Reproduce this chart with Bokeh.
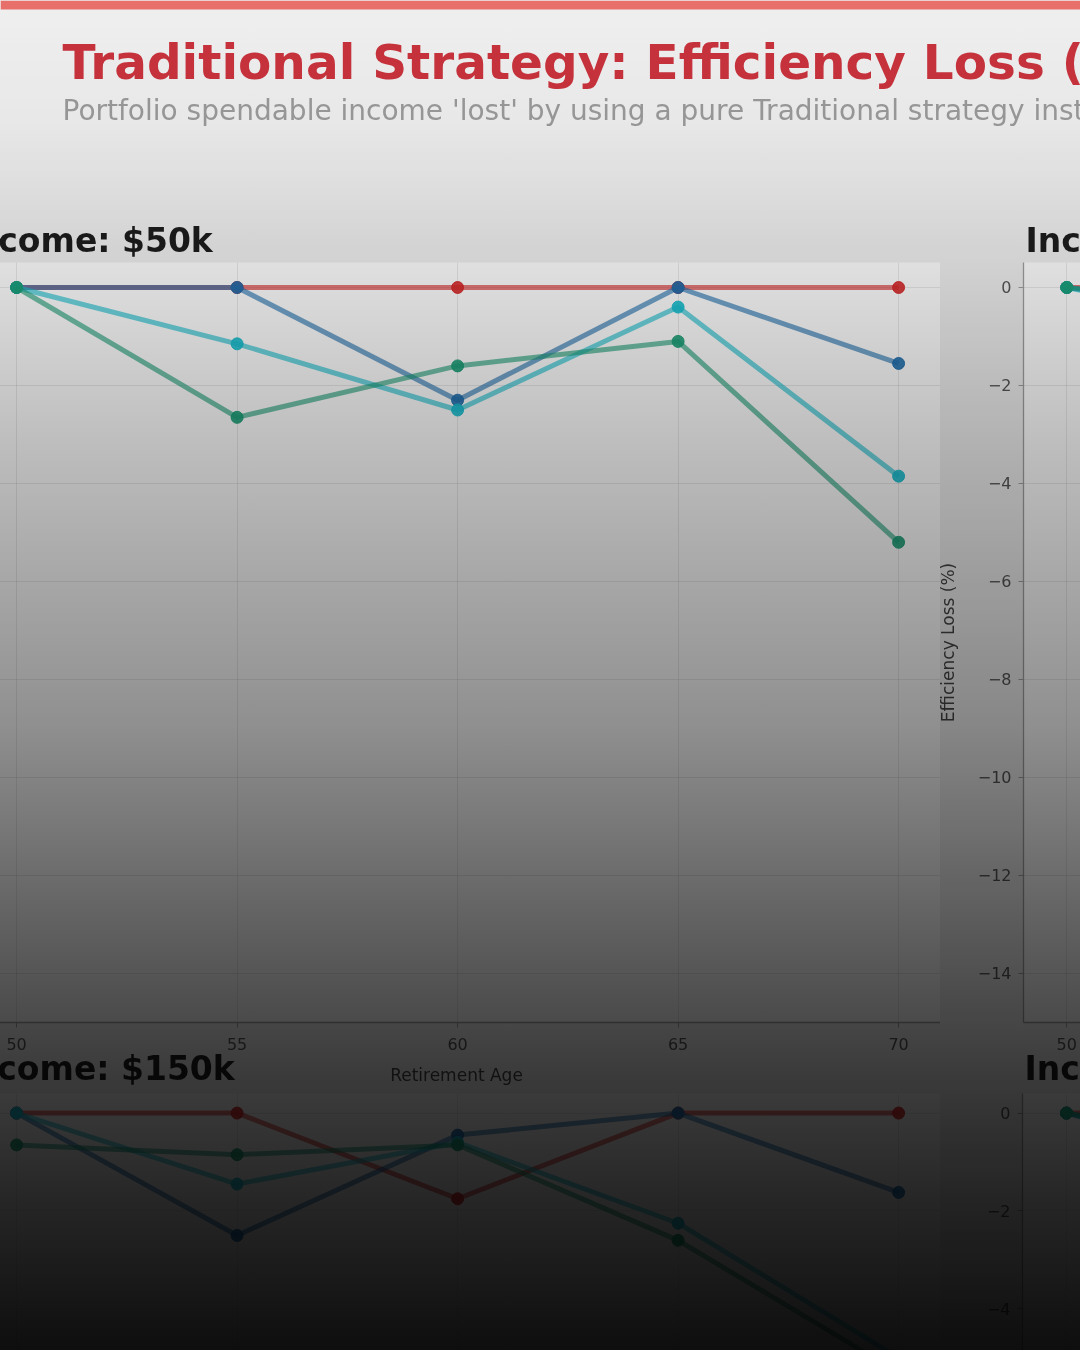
from bokeh.plotting import figure
from bokeh.layouts import column, row
from bokeh.models import (Range1d, Label, BoxAnnotation, FixedTicker, Title,
                          Grid, InlineStyleSheet)
from bokeh.embed import file_html
from bokeh.resources import INLINE

# ---------------- data ----------------
ages = [50, 55, 60, 65, 70]
series_keys = ["red", "blue", "cyan", "green"]
series_colors = {"red": "#d62728", "blue": "#1f6fae", "cyan": "#17becf", "green": "#1b9e77"}

# Income $50k (top left)
inc50_red = [0.0, 0.0, 0.0, 0.0, 0.0]
inc50_blue = [0.0, 0.0, -2.3, 0.0, -1.55]
inc50_cyan = [0.0, -1.15, -2.5, -0.4, -3.85]
inc50_green = [0.0, -2.65, -1.6, -1.1, -5.2]

# Income $100k (top right, only age 50 visible)
inc100_red = [0.0, 0.0, 0.0, 0.0, 0.0]
inc100_blue = [0.0, -0.6, -1.8, 0.0, -1.4]
inc100_cyan = [0.0, -0.9, -2.1, -0.5, -3.2]
inc100_green = [0.0, -0.4, -1.5, -1.2, -4.6]

# Income $150k (bottom left)
inc150_red = [0.0, 0.0, -1.75, 0.0, 0.0]
inc150_blue = [0.0, -2.5, -0.45, 0.0, -1.62]
inc150_cyan = [0.0, -1.45, -0.6, -2.25, -5.0]
inc150_green = [-0.65, -0.85, -0.65, -2.6, -5.3]

# Income $200k (bottom right, only age 50 visible)
inc200_red = [0.0, 0.0, 0.0, 0.0, 0.0]
inc200_blue = [0.0, -1.2, -0.8, 0.0, -1.5]
inc200_cyan = [0.0, -1.0, -0.9, -2.0, -4.4]
inc200_green = [0.0, -0.7, -0.8, -2.3, -4.9]

y_ticks = [0, -2, -4, -6, -8, -10, -12, -14]
y_tick_labels = {t: (str(t).replace("-", "\u2212")) for t in y_ticks}

title_text = "Traditional Strategy: Efficiency Loss (%)"
subtitle_text = ("Portfolio spendable income 'lost' by using a pure Traditional strategy "
                 "instead of the optimal strategy")
x_label = "Retirement Age"
y_label = "Efficiency Loss (%)"

FONT = "DejaVu Sans"
FIG_BG = "#efefef"
FRAME_BG = "#ffffff"
GRID_C = "#b4b4b4"
AXIS_C = "#a0a0a0"


def base_fig(width, height, xr, yr, **kw):
    p = figure(width=width, height=height, x_range=xr, y_range=yr,
               toolbar_location=None, output_backend="svg", **kw)
    p.background_fill_color = FRAME_BG
    p.border_fill_color = FIG_BG
    p.outline_line_color = None
    p.min_border_left = 0
    p.min_border_right = 0
    return p


def add_grids(p):
    p.add_layout(Grid(dimension=0, ticker=FixedTicker(ticks=ages),
                      grid_line_color=GRID_C, grid_line_alpha=0.28, grid_line_width=1))
    p.add_layout(Grid(dimension=1, ticker=FixedTicker(ticks=y_ticks),
                      grid_line_color=GRID_C, grid_line_alpha=0.28, grid_line_width=1))


def add_series(p, data):
    for key in series_keys:
        vals = data[key]
        c = series_colors[key]
        p.line(ages, vals, line_color=c, line_width=5, line_alpha=0.62)
        p.scatter(ages, vals, size=12, fill_color=c, line_color=c, fill_alpha=0.9, line_alpha=0.9)


def panel_title(p, text, offset, standoff):
    t = Title(text=text, align="left", offset=offset, text_font=FONT,
              text_font_size="33px", text_font_style="bold", text_color="#1c1c1c",
              standoff=standoff)
    p.add_layout(t, "above")


def style_xaxis(ax, with_label):
    ax.ticker = FixedTicker(ticks=ages)
    ax.axis_line_color = AXIS_C
    ax.axis_line_width = 1.3
    ax.major_tick_line_color = AXIS_C
    ax.major_tick_out = 5
    ax.major_tick_in = 0
    ax.minor_tick_line_color = None
    ax.major_label_text_font = FONT
    ax.major_label_text_font_size = "16px"
    ax.major_label_text_color = "#555555"
    ax.major_label_standoff = 10
    if with_label:
        ax.axis_label = x_label
        ax.axis_label_text_font = FONT
        ax.axis_label_text_font_size = "17px"
        ax.axis_label_text_font_style = "normal"
        ax.axis_label_text_color = "#444444"
        ax.axis_label_standoff = 12


def style_yaxis(ax, with_label):
    ax.ticker = FixedTicker(ticks=y_ticks)
    ax.major_label_overrides = y_tick_labels
    ax.axis_line_color = AXIS_C
    ax.axis_line_width = 1.3
    ax.major_tick_line_color = AXIS_C
    ax.major_tick_out = 5
    ax.major_tick_in = 0
    ax.minor_tick_line_color = None
    ax.major_label_text_font = FONT
    ax.major_label_text_font_size = "16px"
    ax.major_label_text_color = "#555555"
    ax.major_label_standoff = 7
    if with_label:
        ax.axis_label = y_label
        ax.axis_label_text_font = FONT
        ax.axis_label_text_font_size = "17px"
        ax.axis_label_text_font_style = "normal"
        ax.axis_label_text_color = "#444444"
        ax.axis_label_standoff = 17


# ---------------- header ----------------
header = figure(width=1080, height=190, x_range=Range1d(0, 1080), y_range=Range1d(190, 0),
                toolbar_location=None, output_backend="svg",
                x_axis_location=None, y_axis_location=None, min_border=0)
header.background_fill_color = FIG_BG
header.border_fill_color = FIG_BG
header.outline_line_color = None
header.grid.visible = False
header.add_layout(BoxAnnotation(bottom=0, top=9, left=0, right=1080,
                                fill_color="#e8706b", fill_alpha=1.0, line_color=None))
header.add_layout(Label(x=62, y=61, text=title_text, text_font=FONT, text_font_size="48.5px",
                        text_font_style="bold", text_color="#c8323c", text_baseline="middle"))
header.add_layout(Label(x=62, y=110, text=subtitle_text, text_font=FONT, text_font_size="28px",
                        text_color="#9a9a9a", text_baseline="middle"))

# ---------------- panels ----------------
XL = Range1d(49.0, 70.95)
XR = Range1d(49.0, 50.317)
Y1 = Range1d(-15.0, 0.51)
Y2 = Range1d(-4.85, 0.4)

# row 1
p1 = base_fig(968, 897, XL, Y1, y_axis_location=None, margin=(0, 0, 0, -28))
p1.min_border_top = 72
p1.min_border_bottom = 65
panel_title(p1, "Income: $50k", -10, 6)
style_xaxis(p1.xaxis[0], True)
p1.grid.visible = False
add_grids(p1)
add_series(p1, {"red": inc50_red, "blue": inc50_blue, "cyan": inc50_cyan, "green": inc50_green})

p2 = base_fig(146, 897, XR, Y1, margin=(0, 0, 0, -6))
p2.min_border_top = 72
p2.min_border_bottom = 65
p2.min_border_left = 88
p2.border_fill_alpha = 0.0
panel_title(p2, "Income: $100k", 2, 6)
style_xaxis(p2.xaxis[0], False)
style_yaxis(p2.yaxis[0], True)
p2.grid.visible = False
add_grids(p2)
add_series(p2, {"red": inc100_red, "blue": inc100_blue, "cyan": inc100_cyan, "green": inc100_green})

# row 2
p3 = base_fig(968, 310, XL, Y2, x_axis_location=None, y_axis_location=None,
              margin=(0, 0, 0, -28))
p3.min_border_top = 50
p3.min_border_bottom = 0
p3.border_fill_alpha = 0.0
panel_title(p3, "Income: $150k", -11, 12)
p3.grid.visible = False
add_grids(p3)
add_series(p3, {"red": inc150_red, "blue": inc150_blue, "cyan": inc150_cyan, "green": inc150_green})

p4 = base_fig(146, 310, XR, Y2, x_axis_location=None, margin=(0, 0, 0, -6))
p4.min_border_top = 50
p4.min_border_bottom = 0
p4.min_border_left = 88
p4.border_fill_alpha = 0.0
panel_title(p4, "Income: $200k", 2, 12)
style_yaxis(p4.yaxis[0], False)
p4.grid.visible = False
add_grids(p4)
add_series(p4, {"red": inc200_red, "blue": inc200_blue, "cyan": inc200_cyan, "green": inc200_green})

row1 = row(p1, p2)
row2 = row(p3, p4, margin=(-47, 0, 0, 0))

shade = InlineStyleSheet(css="""
:host { position: relative; background: #efefef; overflow: hidden; }
:host::after {
  content: ""; position: absolute; left: 0; top: 0; right: 0; bottom: 0;
  pointer-events: none; z-index: 50; mix-blend-mode: multiply;
  background: linear-gradient(to bottom,
    #ffffff 0%, #f8f8f8 9%, #e0e0e0 19.3%, #bebebe 32.6%, #8f8f8f 53.9%,
    #6b6b6b 65.2%, #4f4f4f 74.1%, #393939 81.5%, #262626 88.9%, #0e0e0e 100%);
}
""")

layout = column(header, row1, row2, stylesheets=[shade])

open("out.html", "w").write(file_html(layout, INLINE))
